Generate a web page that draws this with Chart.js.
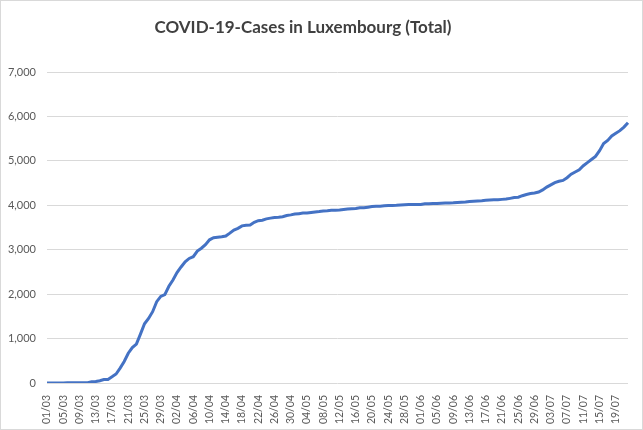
<!DOCTYPE html>
<html>
<head>
<meta charset="utf-8">
<script src="https://cdn.jsdelivr.net/npm/chart.js@4.4.1/dist/chart.umd.min.js"></script>
<style>
  html, body { margin: 0; padding: 0; background: #fff; }
  #wrap { position: relative; width: 643px; height: 430px; box-sizing: border-box; border: 1px solid #d9d9d9; overflow: hidden; }
  #title { position: absolute; top: 15px; left: 0; width: 604px; text-align: center;
           font-family: Lato, "Open Sans", sans-serif; font-weight: 700; font-size: 17px; color: #404040; }
  canvas { position: absolute; left: 0; top: 0; }
</style>
</head>
<body>
<div id="wrap">
  <canvas id="c" width="641" height="428"></canvas>
  <div id="title">COVID-19-Cases in Luxembourg (Total)</div>
</div>
<script>
const dateLabels = [
  "01/03","02/03","03/03","04/03","05/03","06/03","07/03","08/03","09/03","10/03",
  "11/03","12/03","13/03","14/03","15/03","16/03","17/03","18/03","19/03","20/03",
  "21/03","22/03","23/03","24/03","25/03","26/03","27/03","28/03","29/03","30/03","31/03",
  "01/04","02/04","03/04","04/04","05/04","06/04","07/04","08/04","09/04","10/04",
  "11/04","12/04","13/04","14/04","15/04","16/04","17/04","18/04","19/04","20/04",
  "21/04","22/04","23/04","24/04","25/04","26/04","27/04","28/04","29/04","30/04",
  "01/05","02/05","03/05","04/05","05/05","06/05","07/05","08/05","09/05","10/05",
  "11/05","12/05","13/05","14/05","15/05","16/05","17/05","18/05","19/05","20/05",
  "21/05","22/05","23/05","24/05","25/05","26/05","27/05","28/05","29/05","30/05","31/05",
  "01/06","02/06","03/06","04/06","05/06","06/06","07/06","08/06","09/06","10/06",
  "11/06","12/06","13/06","14/06","15/06","16/06","17/06","18/06","19/06","20/06",
  "21/06","22/06","23/06","24/06","25/06","26/06","27/06","28/06","29/06","30/06",
  "01/07","02/07","03/07","04/07","05/07","06/07","07/07","08/07","09/07","10/07",
  "11/07","12/07","13/07","14/07","15/07","16/07","17/07","18/07","19/07","20/07",
  "21/07","22/07"
];

const casesMarch = [1,1,1,1,2,3,3,3,5,7,7,26,34,51,77,81,140,203,335,484,670,798,875,1099,1333,1453,1605,1831,1950,1988,2178];
const casesApril = [2319,2487,2612,2729,2804,2843,2970,3034,3115,3223,3270,3281,3292,3307,3373,3444,3480,3537,3550,3558,3618,3654,3665,3695,3711,3723,3729,3741,3769,3784];
const casesMay = [3802,3812,3824,3828,3840,3851,3859,3871,3877,3886,3888,3894,3904,3915,3923,3930,3945,3947,3958,3971,3980,3981,3990,3993,3995,4000,4008,4012,4016,4018,4019];
const casesJune = [4020,4032,4035,4039,4040,4048,4052,4054,4055,4065,4070,4075,4085,4093,4098,4104,4113,4120,4123,4127,4133,4140,4156,4173,4182,4216,4243,4265,4276,4299];
const casesJuly = [4345,4410,4460,4510,4540,4560,4620,4700,4750,4800,4890,4960,5030,5100,5230,5390,5460,5560,5620,5680,5760,5860];

const yTicks = [0,1000,2000,3000,4000,5000,6000,7000];
const labelEvery = 4;

const totalCases = [].concat(casesMarch, casesApril, casesMay, casesJune, casesJuly);

new Chart(document.getElementById('c'), {
  type: 'line',
  data: {
    labels: dateLabels,
    datasets: [{
      data: totalCases,
      borderColor: '#4472C4',
      borderWidth: 3,
      pointRadius: 0,
      tension: 0,
      fill: false
    }]
  },
  options: {
    responsive: false,
    animation: false,
    layout: { padding: { top: 71, right: 14, left: 0, bottom: 0 } },
    plugins: { legend: { display: false }, tooltip: { enabled: false }, title: { display: false } },
    scales: {
      x: {
        type: 'category',
        offset: false,
        grid: { display: false },
        border: { display: false },
        ticks: {
          autoSkip: false,
          maxRotation: 90,
          minRotation: 90,
          padding: 4,
          color: '#595959',
          font: { family: 'Lato, "Open Sans", sans-serif', size: 10.5 },
          callback: function(v, i) { return i % labelEvery === 0 ? dateLabels[i] : null; }
        },
        afterFit: function(s) { s.height = 46; }
      },
      y: {
        min: 0,
        max: 7000,
        afterBuildTicks: function(s) { s.ticks = yTicks.map(v => ({ value: v })); },
        grid: { color: '#d9d9d9', lineWidth: 1, drawTicks: false },
        border: { display: false },
        ticks: {
          padding: 11,
          color: '#595959',
          font: { family: 'Lato, "Open Sans", sans-serif', size: 11 },
          callback: function(v) { return v.toLocaleString('en-US'); }
        },
        afterFit: function(s) { s.width = 46; }
      }
    }
  }
});
</script>
</body>
</html>
